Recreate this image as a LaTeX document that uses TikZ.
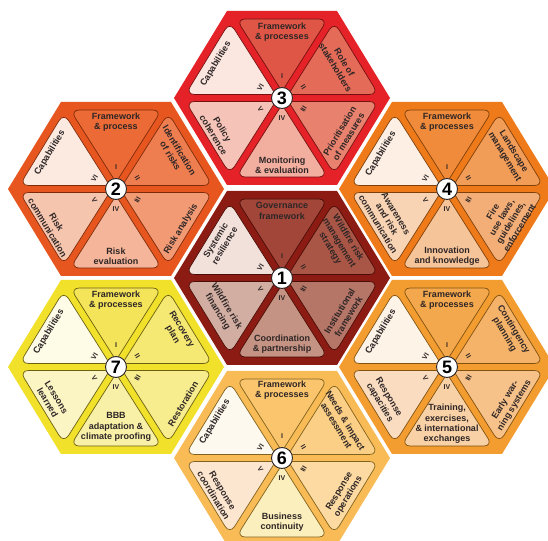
\documentclass[tikz,border=0pt]{standalone}
\usepackage{fontspec}
\setmainfont{Liberation Sans}
% ---------------------------------------------------------------
% palette
\definecolor{txt}{HTML}{2E2626}
% 1 dark red
\definecolor{hAbase}{HTML}{8C1C13}\definecolor{hAline}{HTML}{4A0C06}
\definecolor{hAi}{HTML}{A2463A}\definecolor{hAii}{HTML}{AA5646}
\definecolor{hAiii}{HTML}{B57567}\definecolor{hAiv}{HTML}{C49383}
\definecolor{hAv}{HTML}{D2AEA2}\definecolor{hAvi}{HTML}{F2E1DB}
% 2 orange red
\definecolor{hBbase}{HTML}{E8561F}\definecolor{hBline}{HTML}{7E2A0A}
\definecolor{hBi}{HTML}{EB6A35}\definecolor{hBii}{HTML}{EE7E50}
\definecolor{hBiii}{HTML}{F19A74}\definecolor{hBiv}{HTML}{F4B59A}
\definecolor{hBv}{HTML}{F6C5AE}\definecolor{hBvi}{HTML}{FCEAE1}
% 3 red
\definecolor{hCbase}{HTML}{E42228}\definecolor{hCline}{HTML}{761010}
\definecolor{hCi}{HTML}{DF5646}\definecolor{hCii}{HTML}{E36B58}
\definecolor{hCiii}{HTML}{E8826F}\definecolor{hCiv}{HTML}{F2AE9F}
\definecolor{hCv}{HTML}{F5C3B7}\definecolor{hCvi}{HTML}{FBE6E0}
% 4 orange
\definecolor{hDbase}{HTML}{EE7A1A}\definecolor{hDline}{HTML}{7E3F08}
\definecolor{hDi}{HTML}{EF8B3A}\definecolor{hDii}{HTML}{F19C57}
\definecolor{hDiii}{HTML}{F3AE77}\definecolor{hDiv}{HTML}{F6C499}
\definecolor{hDv}{HTML}{F8D4B4}\definecolor{hDvi}{HTML}{FDEFE4}
% 5 light orange
\definecolor{hEbase}{HTML}{F39C30}\definecolor{hEline}{HTML}{805210}
\definecolor{hEi}{HTML}{F4A84D}\definecolor{hEii}{HTML}{F5B369}
\definecolor{hEiii}{HTML}{F7C28A}\definecolor{hEiv}{HTML}{F8D1A7}
\definecolor{hEv}{HTML}{FADDC1}\definecolor{hEvi}{HTML}{FEF3E7}
% 6 amber
\definecolor{hFbase}{HTML}{F8BB55}\definecolor{hFline}{HTML}{80621E}
\definecolor{hFi}{HTML}{FAC56D}\definecolor{hFii}{HTML}{FBCF86}
\definecolor{hFiii}{HTML}{FCDAA2}\definecolor{hFiv}{HTML}{FBEFBD}
\definecolor{hFv}{HTML}{FDE6D0}\definecolor{hFvi}{HTML}{FEF9EF}
% 7 yellow
\definecolor{hGbase}{HTML}{F1E12B}\definecolor{hGline}{HTML}{6A6010}
\definecolor{hGi}{HTML}{F4E45A}\definecolor{hGii}{HTML}{F5E873}
\definecolor{hGiii}{HTML}{F7EC8E}\definecolor{hGiv}{HTML}{F9F0A8}
\definecolor{hGv}{HTML}{FBF4C3}\definecolor{hGvi}{HTML}{FEFBE7}
% ---------------------------------------------------------------
% hexagon outline (flat top), centred on the local origin
\newcommand\hexbase[1]{\fill[#1] (108,0) -- (55,87) -- (-55,87) -- (-108,0) -- (-55,-87) -- (55,-87) -- cycle;}
% upper sector cell (mirror with yscale=-1 for the lower one)
\newcommand\topcell[2]{\filldraw[cell, fill=#1, draw=#2]
  (0,79) -- (45.8,79) -- (9.6,21.8) .. controls (0,6.55) .. (-9.6,21.8) -- (-45.8,79) -- cycle;}
% upper-right sector cell (mirror for the other three)
\newcommand\sidecell[2]{\filldraw[cell, fill=#1, draw=#2]
  (74,3.5) -- (96.5,3.5) -- (52.26,76.11) -- (15.97,18.72) .. controls (6.35,3.5) .. (24.35,3.5) -- cycle;}
% the six cells of one hexagon: #1 colour prefix
\newcommand\hexcells[1]{%
  \hexbase{#1base}
  \topcell{#1i}{#1line}
  \sidecell{#1ii}{#1line}
  \begin{scope}[yscale=-1]\sidecell{#1iii}{#1line}\end{scope}
  \begin{scope}[yscale=-1]\topcell{#1iv}{#1line}\end{scope}
  \begin{scope}[xscale=-1,yscale=-1]\sidecell{#1v}{#1line}\end{scope}
  \begin{scope}[xscale=-1]\sidecell{#1vi}{#1line}\end{scope}}
% roman numerals and hub: #1 node prefix, #2 number
\newcommand\hexhub[2]{%
  \node[numeral] (#1n1) at (0,22) {I};
  \node[numeral, rotate=-59] (#1n2) at (21.5,11) {II};
  \node[numeral, rotate=59] (#1n3) at (21.5,-11) {III};
  \node[numeral] (#1n4) at (0,-20) {IV};
  \node[numeral, rotate=-59] (#1n5) at (-21.5,-11) {V};
  \node[numeral, rotate=59] (#1n6) at (-21.5,11) {VI};
  \node[hub] (#1) at (0,0) {#2};}

\begin{document}
\begin{tikzpicture}[x=1pt,y=1pt,
  cell/.style={line width=0.7pt, rounded corners=9pt},
  celltext/.style={text=txt, font=\bfseries\fontsize{9}{10.4}\selectfont, align=center, inner sep=0pt},
  numeral/.style={text=txt, font=\bfseries\fontsize{7}{7}\selectfont, inner sep=0pt},
  hub/.style={circle, draw=txt, line width=0.9pt, fill=white, minimum size=21pt, inner sep=0pt,
    font=\bfseries\fontsize{18}{18}\selectfont, text=black}]
\useasboundingbox (0,0) rectangle (548,540);
\fill[white] (0,0) rectangle (548,540);
\clip (0,0) rectangle (548,540);

% 3 -- top
\begin{scope}[shift={(282,442)}]
  \hexcells{hC}\hexhub{hexC}{3}
  \node[celltext] (hexCt1) at (0,66) {Framework\\\& processes};
  \node[celltext, rotate=-59] (hexCt2) at (58,33) {Role of\\stakeholders};
  \node[celltext, rotate=59] (hexCt3) at (62,-36) {Prioritisation\\of measures};
  \node[celltext] (hexCt4) at (0,-67) {Monitoring\\\& evaluation};
  \node[celltext, rotate=-59] (hexCt5) at (-64,-34) {Policy\\coherence};
  \node[celltext, rotate=59] (hexCt6) at (-66,34) {Capabilities};
\end{scope}

% 1 -- centre
\begin{scope}[shift={(282,262)}]
  \hexcells{hA}\hexhub{hexA}{1}
  \node[celltext] (hexAt1) at (0,67) {Governance\\framework};
  \node[celltext, rotate=-59] (hexAt2) at (57,35) {Wildfire risk\\management\\strategy};
  \node[celltext, rotate=59] (hexAt3) at (62,-36) {Institutional\\framework};
  \node[celltext] (hexAt4) at (0,-66) {Coordination\\\& partnership};
  \node[celltext, rotate=-59] (hexAt5) at (-60,-31) {Wildfire risk\\financing};
  \node[celltext, rotate=59] (hexAt6) at (-62,35) {Systemic\\resilience};
\end{scope}

% 2 -- upper left
\begin{scope}[shift={(116,351)}]
  \hexcells{hB}\hexhub{hexB}{2}
  \node[celltext] (hexBt1) at (0,67) {Framework\\\& process};
  \node[celltext, rotate=-59] (hexBt2) at (59,36) {Identification\\of risks};
  \node[celltext, rotate=59] (hexBt3) at (65,-40) {Risk analysis};
  \node[celltext] (hexBt4) at (0,-67) {Risk\\evaluation};
  \node[celltext, rotate=-59] (hexBt5) at (-64,-36) {Risk\\communication};
  \node[celltext, rotate=59] (hexBt6) at (-66,36) {Capabilities};
\end{scope}

% 4 -- upper right
\begin{scope}[shift={(447,351)}]
  \hexcells{hD}\hexhub{hexD}{4}
  \node[celltext] (hexDt1) at (0,67) {Framework\\\& processes};
  \node[celltext, rotate=-59] (hexDt2) at (62,35) {Landscape\\management};
  \node[celltext, rotate=59] (hexDt3) at (59,-31) {Fire\\use laws,\\guidelines,\\enforcement};
  \node[celltext] (hexDt4) at (0,-67) {Innovation\\and knowledge};
  \node[celltext, rotate=-59] (hexDt5) at (-60,-30) {Awareness\\and risk\\communication};
  \node[celltext, rotate=59] (hexDt6) at (-66,35) {Capabilities};
\end{scope}

% 7 -- lower left
\begin{scope}[shift={(116,173)}]
  \hexcells{hG}\hexhub{hexG}{7}
  \node[celltext] (hexGt1) at (0,67) {Framework\\\& processes};
  \node[celltext, rotate=-59] (hexGt2) at (61,35) {Recovery\\plan};
  \node[celltext, rotate=59] (hexGt3) at (67,-37) {Restoration};
  \node[celltext] (hexGt4) at (0,-60) {BBB\\adaptation \&\\climate proofing};
  \node[celltext, rotate=-59] (hexGt5) at (-64,-33) {Lessons\\learned};
  \node[celltext, rotate=59] (hexGt6) at (-67,35) {Capabilities};
\end{scope}

% 5 -- lower right
\begin{scope}[shift={(447,173)}]
  \hexcells{hE}\hexhub{hexE}{5}
  \node[celltext] (hexEt1) at (0,67) {Framework\\\& processes};
  \node[celltext, rotate=-59] (hexEt2) at (62,35) {Contingency\\planning};
  \node[celltext, rotate=59] (hexEt3) at (63,-36) {Early war-\\ning systems};
  \node[celltext] (hexEt4) at (0,-57) {Training,\\exercises,\\\& international\\exchanges};
  \node[celltext, rotate=-59] (hexEt5) at (-63,-33) {Response\\capacities};
  \node[celltext, rotate=59] (hexEt6) at (-66,35) {Capabilities};
\end{scope}

% 6 -- bottom
\begin{scope}[shift={(282,82)}]
  \hexcells{hF}\hexhub{hexF}{6}
  \node[celltext] (hexFt1) at (0,68) {Framework\\\& processes};
  \node[celltext, rotate=-59] (hexFt2) at (59,35) {Needs \& impact\\assessment};
  \node[celltext, rotate=59] (hexFt3) at (62,-36) {Response\\operations};
  \node[celltext] (hexFt4) at (0,-64) {Business\\continuity};
  \node[celltext, rotate=-59] (hexFt5) at (-64,-35) {Response\\coordination};
  \node[celltext, rotate=59] (hexFt6) at (-67,36) {Capabilities};
\end{scope}
\end{tikzpicture}
\end{document}
